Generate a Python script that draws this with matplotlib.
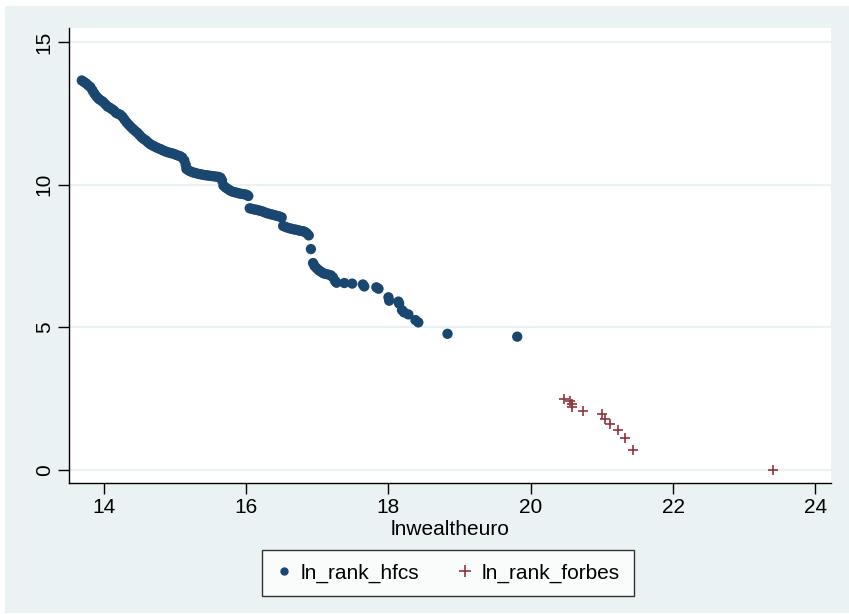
"""
ln(rank) vs ln(wealth): HFCS survey vs Forbes list
"""

import numpy as np
import matplotlib
matplotlib.use("Agg")
import matplotlib.pyplot as plt
from matplotlib.patches import Rectangle
from matplotlib.lines import Line2D

# ── data ──────────────────────────────────────────────────────
hfcs_x = [
    13.69, 13.72, 13.75, 13.78, 13.81, 13.84, 13.87, 13.90, 13.93, 13.96,
    13.99, 14.02, 14.05, 14.08, 14.11, 14.14, 14.17, 14.20, 14.23, 14.26,
    14.29, 14.32, 14.35, 14.38, 14.41, 14.44, 14.47, 14.50, 14.53, 14.56,
    14.59, 14.62, 14.65, 14.68, 14.71, 14.74, 14.77, 14.80, 14.83, 14.86,
    14.89, 14.92, 14.95, 14.98, 15.01, 15.04, 15.07, 15.10, 15.13, 15.15,
    15.16, 15.19, 15.22, 15.25, 15.28, 15.31, 15.34, 15.37, 15.40, 15.43,
    15.46, 15.49, 15.52, 15.55, 15.58, 15.61, 15.64, 15.66,
    15.68, 15.71, 15.74, 15.77, 15.80, 15.83, 15.86, 15.89, 15.92, 15.95,
    15.98, 16.01, 16.03,
    16.05, 16.08, 16.11, 16.14, 16.17, 16.20, 16.23, 16.26, 16.29, 16.32,
    16.35, 16.38, 16.41, 16.44, 16.47, 16.50,
    16.52, 16.55, 16.58, 16.61, 16.64, 16.67, 16.70, 16.73, 16.76, 16.79,
    16.82, 16.85, 16.88,
    16.91, 16.94, 16.96, 16.99, 17.02, 17.05, 17.08, 17.11, 17.15, 17.19,
    17.22, 17.25, 17.27, 17.38, 17.49, 17.64, 17.66, 17.83, 17.86, 18.00,
    18.01, 18.14, 18.15, 18.19, 18.22, 18.28, 18.38, 18.42, 18.83, 19.81,
]
hfcs_y = [
    13.65, 13.60, 13.55, 13.48, 13.42, 13.30, 13.18, 13.08, 13.00, 12.95,
    12.90, 12.82, 12.74, 12.70, 12.65, 12.60, 12.52, 12.48, 12.45, 12.38,
    12.28, 12.18, 12.10, 12.02, 11.95, 11.88, 11.82, 11.74, 11.66, 11.60,
    11.55, 11.48, 11.42, 11.38, 11.34, 11.30, 11.27, 11.24, 11.20, 11.17,
    11.14, 11.12, 11.10, 11.08, 11.05, 11.02, 11.00, 10.95, 10.85, 10.70,
    10.55, 10.50, 10.46, 10.43, 10.41, 10.39, 10.37, 10.36, 10.34, 10.33,
    10.32, 10.31, 10.30, 10.29, 10.28, 10.27, 10.24, 10.15,
    9.97, 9.90, 9.85, 9.80, 9.76, 9.74, 9.72, 9.70, 9.68, 9.67,
    9.66, 9.64, 9.60,
    9.17, 9.15, 9.13, 9.12, 9.10, 9.08, 9.06, 9.03, 9.00, 8.98,
    8.96, 8.94, 8.92, 8.90, 8.88, 8.85,
    8.55, 8.52, 8.49, 8.47, 8.45, 8.43, 8.42, 8.40, 8.38, 8.37,
    8.35, 8.30, 8.22,
    7.74, 7.25, 7.15, 7.07, 7.00, 6.95, 6.90, 6.87, 6.85, 6.82,
    6.75, 6.62, 6.56, 6.55, 6.53, 6.50, 6.43, 6.40, 6.35, 6.05,
    5.93, 5.90, 5.83, 5.60, 5.52, 5.45, 5.25, 5.17, 4.77, 4.67,
]

forbes_x = [20.47, 20.55, 20.58, 20.58, 20.74, 21.00, 21.05, 21.11, 21.23, 21.33, 21.44, 23.40]
forbes_y = [2.48, 2.40, 2.30, 2.20, 2.08, 1.95, 1.79, 1.61, 1.39, 1.10, 0.69, 0.00]

x_ticks = [14, 16, 18, 20, 22, 24]
y_ticks = [0, 5, 10, 15]

# ── Stata s2color look ────────────────────────────────────────
CLR_BG = "#EAF2F3"
CLR_NAVY = "#1A476F"
CLR_MAROON = "#90353B"

plt.rcParams["font.family"] = ["Liberation Sans", "DejaVu Sans"]

fig = plt.figure(figsize=(8.49, 6.14), dpi=100)
fig.patch.set_facecolor("white")
fig.patches.append(Rectangle((5 / 849, 1 / 614), 844 / 849, 607 / 614,
                             transform=fig.transFigure, facecolor=CLR_BG,
                             edgecolor="none", zorder=-10))

ax = fig.add_axes([69 / 849, 131 / 614, 762 / 849, 455 / 614])
ax.set_facecolor("white")

for y in y_ticks:
    ax.axhline(y, color=CLR_BG, linewidth=1.6, zorder=0)

ax.scatter(hfcs_x, hfcs_y, s=55, color=CLR_NAVY, edgecolors="none", zorder=3)
ax.scatter(forbes_x, forbes_y, s=60, marker="+", color=CLR_MAROON,
           linewidths=1.2, zorder=3)

ax.set_xlim(13.51, 24.22)
ax.set_ylim(-0.46, 15.49)
ax.set_xticks(x_ticks)
ax.set_yticks(y_ticks)
ax.tick_params(axis="both", length=8, width=1, labelsize=15, pad=3)
ax.tick_params(axis="y", labelrotation=90)
for lbl in ax.get_yticklabels():
    lbl.set_va("center")

for side in ["top", "right"]:
    ax.spines[side].set_visible(False)
for side in ["left", "bottom"]:
    ax.spines[side].set_linewidth(1)
    ax.spines[side].set_color("black")

ax.set_xlabel("lnwealtheuro", fontsize=15, labelpad=2)

handles = [
    Line2D([], [], marker="o", linestyle="none", color=CLR_NAVY, markersize=5),
    Line2D([], [], marker="+", linestyle="none", color=CLR_MAROON,
           markersize=8, markeredgewidth=1.2),
]
leg = fig.legend(handles, ["ln_rank_hfcs", "ln_rank_forbes"], loc="center",
                 bbox_to_anchor=(448 / 849, 41 / 614), ncol=2, fontsize=15,
                 frameon=True, fancybox=False, handlelength=0.8,
                 handletextpad=0.4, columnspacing=1.8, borderpad=0.65,
                 borderaxespad=0)
leg.get_frame().set_edgecolor("black")
leg.get_frame().set_linewidth(1)
leg.get_frame().set_facecolor("white")

fig.savefig("out.png", dpi=100, facecolor=fig.get_facecolor())
